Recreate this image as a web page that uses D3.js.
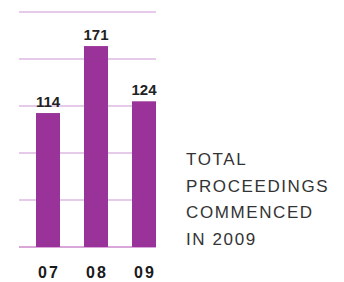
<!DOCTYPE html>
<html>
<head>
<meta charset="utf-8">
<script src="https://cdn.jsdelivr.net/npm/d3@7"></script>
<style>
  body { margin: 0; background: #fff; }
</style>
</head>
<body>
<script>
const years = ["07", "08", "09"]
const proceedings = [114, 171, 124]
const gridTicks = [0, 40, 80, 120, 160, 200]
const titleLines = ["TOTAL", "PROCEEDINGS", "COMMENCED", "IN 2009"]

const width = 344
const height = 282

const svg = d3.select("body").append("svg")
    .attr("width", width)
    .attr("height", height)

const x = d3.scaleBand()
    .domain(years)
    .range([24, 168])
    .paddingInner(0.5)
    .paddingOuter(0.25)

const y = d3.scaleLinear()
    .domain([0, 200])
    .range([247, 12])

// gridlines
svg.selectAll(".grid")
    .data(gridTicks)
    .enter()
    .append("line")
    .attr("x1", 19)
    .attr("x2", 156)
    .attr("y1", d => y(d))
    .attr("y2", d => y(d))
    .attr("stroke", d => d === 0 ? "#cc88cc" : "#ddb9e2")
    .attr("stroke-width", 1.5)

svg.selectAll(".bar")
    .data(proceedings)
    .enter()
    .append("rect")
    .attr("x", (d, i) => x(years[i]))
    .attr("y", d => y(d))
    .attr("width", x.bandwidth())
    .attr("height", d => y(0) - y(d))
    .attr("fill", "#993399")

svg.selectAll(".val")
    .data(proceedings)
    .enter()
    .append("text")
    .attr("x", (d, i) => x(years[i]) + x.bandwidth() / 2)
    .attr("y", d => y(d) - 6)
    .attr("text-anchor", "middle")
    .attr("font-family", "'Liberation Sans', Arial, sans-serif")
    .attr("font-size", 15)
    .attr("font-weight", "bold")
    .attr("fill", "#222")
    .text(d => d)

// x axis labels
svg.selectAll(".cat")
    .data(years)
    .enter()
    .append("text")
    .attr("x", d => x(d) + x.bandwidth() / 2 + 1)
    .attr("y", 278)
    .attr("text-anchor", "middle")
    .attr("font-family", "'Liberation Sans', Arial, sans-serif")
    .attr("font-size", 16)
    .attr("font-weight", "bold")
    .attr("letter-spacing", 2)
    .attr("fill", "#1a1a1a")
    .text(d => d)

svg.selectAll(".title")
    .data(titleLines)
    .enter()
    .append("text")
    .attr("x", 186)
    .attr("y", (d, i) => 165 + i * 26.5)
    .attr("font-family", "'Liberation Sans', Arial, sans-serif")
    .attr("font-size", 17)
    .attr("letter-spacing", 1.6)
    .attr("fill", "#333")
    .text(d => d)
</script>
</body>
</html>
